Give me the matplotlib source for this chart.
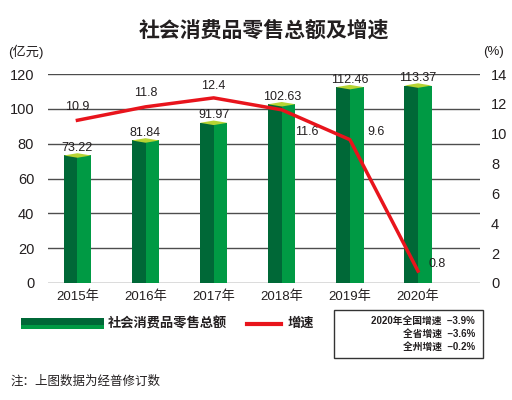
import matplotlib.pyplot as plt
from matplotlib.patches import Polygon, Rectangle
from matplotlib.lines import Line2D
import matplotlib.transforms as mtransforms

plt.rcParams['font.family'] = ['Liberation Sans', 'Noto Sans CJK SC']

# data
years = ['2015年', '2016年', '2017年', '2018年', '2019年', '2020年']
sales = [73.22, 81.84, 91.97, 102.63, 112.46, 113.37]
growth = [10.9, 11.8, 12.4, 11.6, 9.6, 0.8]
notes = ['2020年全国增速  –3.9%', '全省增速  –3.6%', '全州增速  –0.2%']

dark = '#006837'
light = '#009a44'
top_c = '#b7d433'
red = '#e8141c'
grid_c = '#4d4d4d'
txt = '#231f20'

fig = plt.figure(figsize=(5.12, 4.0), dpi=100)
ax = fig.add_axes([0.094, 0.2925, 0.8435, 0.5225])
ax2 = ax.twinx()

x = list(range(len(years)))
w = 0.4
d = 1.3

ax.set_xlim(-0.43, 5.91)
ax.set_ylim(0, 120)
ax2.set_ylim(0, 14)

for v in range(0, 121, 20):
    ax.axhline(v, color=grid_c, lw=1.0, zorder=1)

for xi, v in zip(x, sales):
    ax.add_patch(Rectangle((xi - w / 2, 0), w / 2, v, color=dark, lw=0, zorder=2))
    ax.add_patch(Rectangle((xi, 0), w / 2, v, color=light, lw=0, zorder=2))
    ax.add_patch(Polygon([(xi - w / 2, v), (xi, v + d), (xi + w / 2, v), (xi, v - d)],
                         closed=True, color=top_c, lw=0, zorder=3))
    ax.text(xi, v + 2.6, f'{v:.2f}', ha='center', va='baseline', fontsize=9,
            color=txt)

ax2.plot(x, growth, color=red, lw=2.5, zorder=5)
ax2.set_zorder(ax.get_zorder() + 1)
ax2.patch.set_visible(False)

# label offsets (dx, dy) relative to the point
g_off = [(0, 0.9, 'center'), (0, 0.9, 'center'), (0, 0.8, 'center'),
         (0.37, -1.5, 'center'), (0.38, 0.5, 'center'), (0.15, 0.5, 'left')]
for xi, v, (dx, dy, ha) in zip(x, growth, g_off):
    ax2.text(xi + dx, v + dy, f'{v}', ha=ha, va='center', fontsize=9,
             color=txt)

ax.set_xticks(x)
ax.set_xticklabels(years, fontsize=9.5)
shift = mtransforms.ScaledTranslation(3 / 100, 0, fig.dpi_scale_trans)
for lab in ax.get_xticklabels():
    lab.set_transform(lab.get_transform() + shift)
ax.set_yticks(range(0, 121, 20))
ax2.set_yticks(range(0, 15, 2))
for a in (ax, ax2):
    a.tick_params(length=0, labelsize=10.5, colors=txt)
    for s in a.spines.values():
        s.set_visible(False)
ax.tick_params(axis='y', pad=10)
ax2.tick_params(axis='y', pad=8)
ax.tick_params(axis='x', pad=5, labelsize=9.5)

fig.text(0.515, 0.925, '社会消费品零售总额及增速', ha='center', va='center',
         fontsize=15, fontweight='black', color=txt, family='Noto Sans CJK SC')
fig.text(0.015, 0.87, '(亿元)', ha='left', va='center', fontsize=9.5, color=txt)
fig.text(0.985, 0.87, '(%)', ha='right', va='center', fontsize=9.5, color=txt)

# legend
fig.add_artist(Rectangle((0.041, 0.186), 0.162, 0.020, color=dark, lw=0,
                         transform=fig.transFigure))
fig.add_artist(Rectangle((0.041, 0.178), 0.162, 0.009, color=light, lw=0,
                         transform=fig.transFigure))
fig.text(0.21, 0.19, '社会消费品零售总额', ha='left', va='center', fontsize=9.5,
         fontweight='bold', color=txt)
fig.add_artist(Line2D([0.483, 0.549], [0.19, 0.19], color=red, lw=3,
                      transform=fig.transFigure))
fig.text(0.562, 0.19, '增速', ha='left', va='center', fontsize=9.5,
         fontweight='bold', color=txt)

fig.add_artist(Rectangle((0.653, 0.105), 0.29, 0.12, fill=False, ec='#333333',
                         lw=1.0, transform=fig.transFigure))
for i, t in enumerate(notes):
    fig.text(0.928, 0.198 - i * 0.032, t, ha='right', va='center', fontsize=7,
             fontweight='bold', color=txt)

fig.text(0.02, 0.045, '注：上图数据为经普修订数', ha='left', va='center',
         fontsize=9, color=txt)

fig.savefig('out.png', dpi=100)
